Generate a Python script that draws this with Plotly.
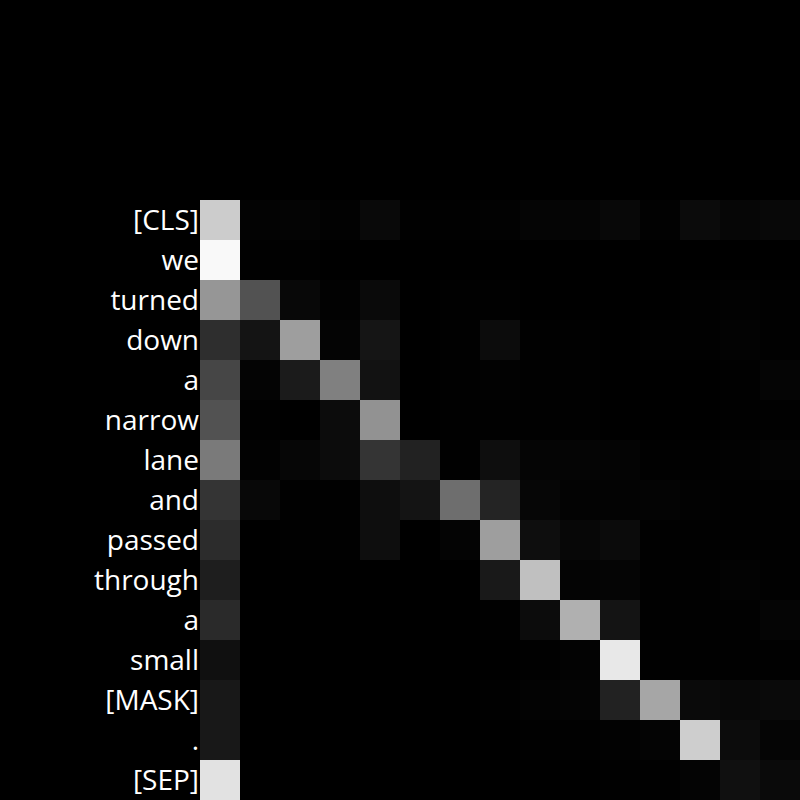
import plotly.graph_objects as go

tokens = ["[CLS]", "we", "turned", "down", "a", "narrow", "lane", "and",
          "passed", "through", "a", "small", "[MASK]", ".", "[SEP]"]

# attention weights (0..255 gray scale), rows = query tokens
row_cls     = [204, 3, 4, 2, 9, 1, 1, 2, 5, 5, 8, 2, 11, 6, 8]
row_we      = [249, 1, 1, 0, 0, 0, 0, 0, 0, 0, 0, 0, 0, 0, 0]
row_turned  = [150, 82, 8, 2, 10, 0, 1, 1, 0, 0, 0, 0, 1, 2, 1]
row_down    = [46, 20, 158, 4, 21, 0, 1, 12, 1, 1, 0, 1, 1, 3, 1]
row_a1      = [70, 4, 27, 128, 18, 0, 1, 2, 1, 1, 0, 0, 0, 1, 5]
row_narrow  = [82, 1, 0, 12, 146, 0, 1, 1, 1, 1, 0, 0, 0, 1, 1]
row_lane    = [122, 2, 6, 12, 52, 34, 1, 14, 5, 5, 4, 1, 1, 2, 4]
row_and     = [52, 8, 1, 1, 14, 20, 110, 36, 6, 3, 3, 4, 2, 1, 1]
row_passed  = [44, 0, 1, 1, 14, 0, 4, 158, 14, 7, 11, 1, 1, 1, 1]
row_through = [30, 0, 0, 0, 0, 0, 0, 25, 192, 4, 5, 1, 1, 3, 1]
row_a2      = [42, 0, 0, 0, 0, 0, 0, 1, 12, 176, 20, 1, 1, 1, 5]
row_small   = [16, 0, 0, 0, 0, 0, 0, 0, 1, 3, 232, 1, 1, 1, 1]
row_mask    = [24, 0, 0, 0, 0, 0, 0, 1, 3, 4, 34, 166, 10, 8, 10]
row_dot     = [24, 0, 0, 0, 0, 0, 0, 0, 1, 1, 2, 4, 206, 12, 5]
row_sep     = [226, 0, 0, 0, 0, 0, 0, 0, 0, 0, 1, 1, 4, 16, 10]

rows = [row_cls, row_we, row_turned, row_down, row_a1, row_narrow, row_lane,
        row_and, row_passed, row_through, row_a2, row_small, row_mask,
        row_dot, row_sep]
z = [[v / 255.0 for v in r] for r in rows]

idx = list(range(len(tokens)))

fig = go.Figure(go.Heatmap(
    z=z, x=idx, y=idx,
    colorscale=[[0, "black"], [1, "white"]],
    zmin=0, zmax=1, showscale=False,
))

fig.update_layout(
    width=800, height=800,
    margin=dict(l=200, r=0, t=200, b=0),
    paper_bgcolor="black", plot_bgcolor="black",
    font=dict(family="Open Sans", color="white", size=28),
)
fig.update_xaxes(showticklabels=False, showgrid=False, zeroline=False,
                 ticks="", range=[-0.5, 14.5])
fig.update_yaxes(tickmode="array", tickvals=idx, ticktext=tokens,
                 autorange=False, range=[14.5, -0.5],
                 showgrid=False, zeroline=False, ticks="",
                 ticklabelstandoff=0)

fig.write_html("out.html")
